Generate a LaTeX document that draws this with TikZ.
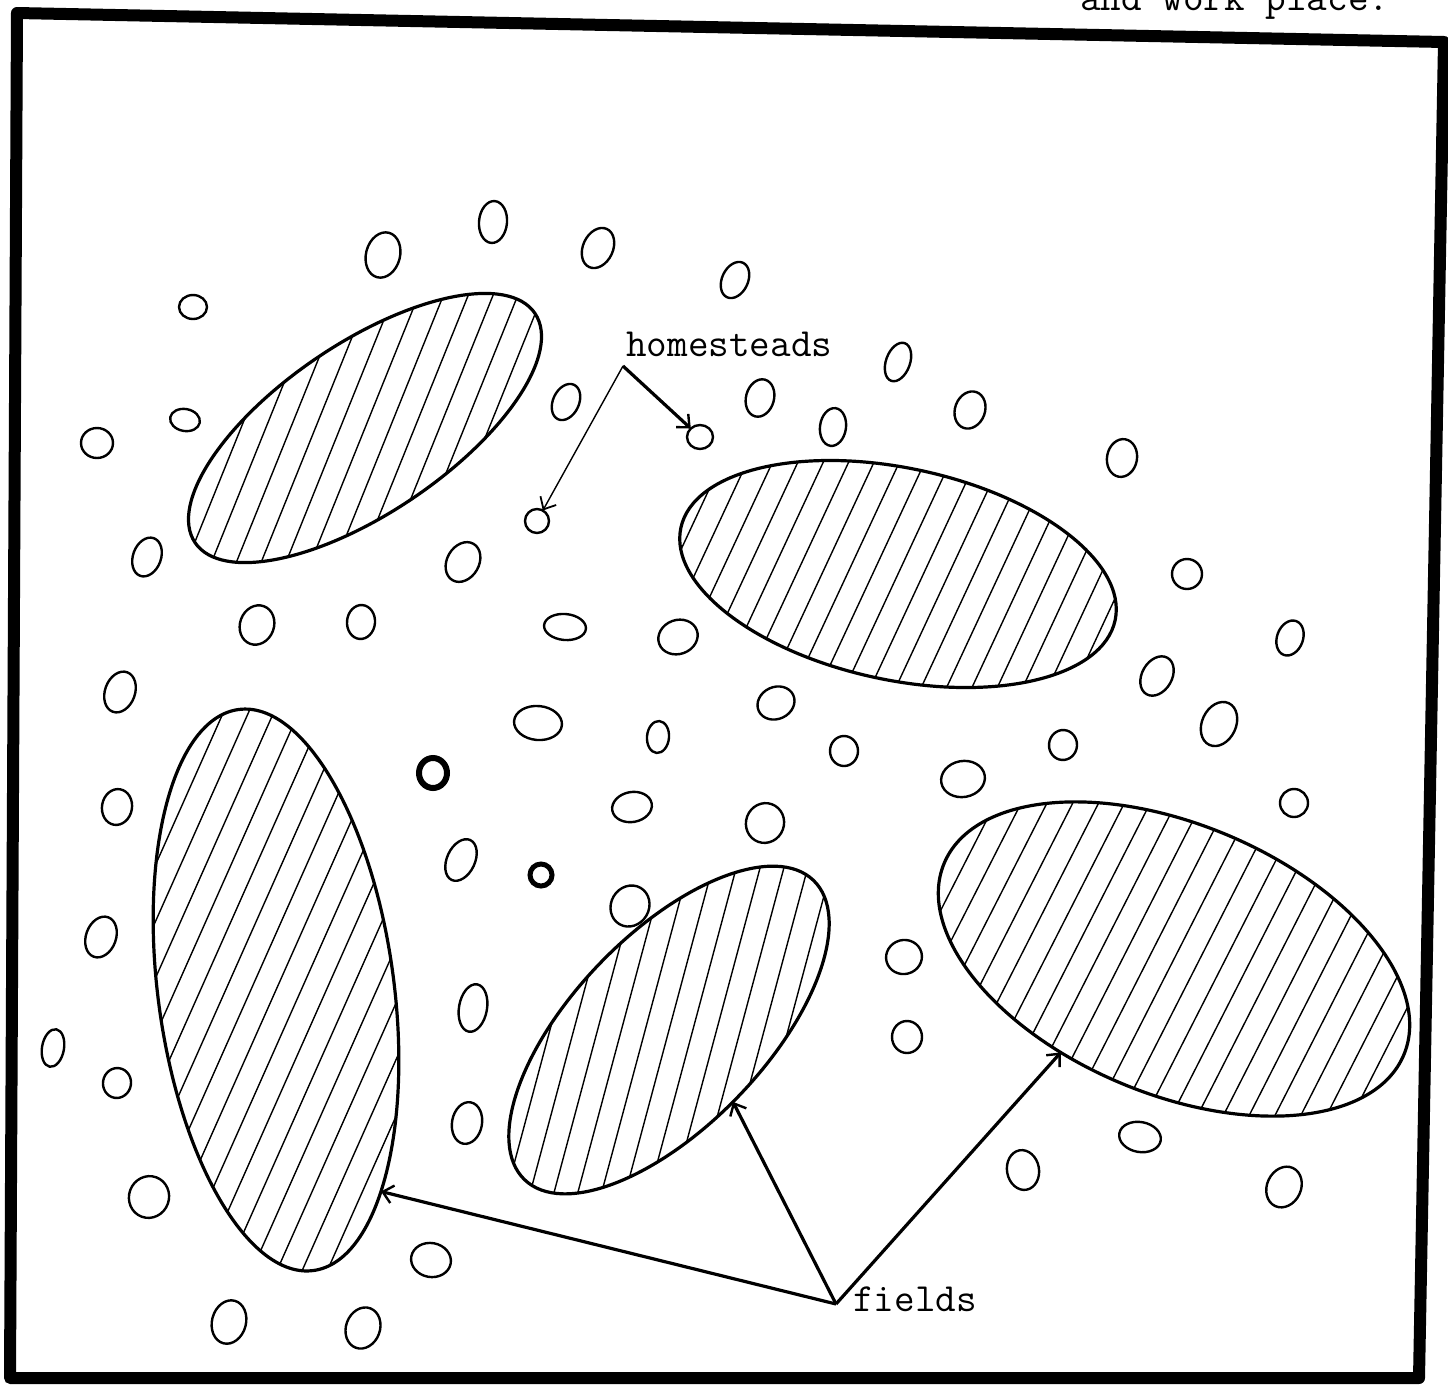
\documentclass[tikz,border=0pt]{standalone}
\usepackage{fontspec}
\usetikzlibrary{arrows.meta,shapes.geometric}
\newcommand{\fieldshape}[8]{%
 \begin{scope}[shift={(#2,#3)}, rotate=#6]
   \begin{scope}
    \clip (0,0) ellipse [x radius=#4pt, y radius=#5pt];
    \pgfmathsetmacro\hangle{#7-#6}
    \foreach \k in {-14,...,14}{
      \draw[hatchline] ({(\k*23*cos(\hangle+90)-400*cos(\hangle))*1pt}, {(\k*23*sin(\hangle+90)-400*sin(\hangle))*1pt}) -- ({(\k*23*cos(\hangle+90)+400*cos(\hangle))*1pt},{(\k*23*sin(\hangle+90)+400*sin(\hangle))*1pt});
    }
   \end{scope}
   \draw[fieldline] (0,0) ellipse [x radius=#4pt, y radius=#5pt];
   \coordinate (#1) at (#8:#4pt and #5pt);
 \end{scope}}
\begin{document}
\begin{tikzpicture}[x=1pt,y=-1pt,
  frame/.style={line width=12pt, line join=round},
  fieldline/.style={line width=3.2pt},
  hatchline/.style={line width=1.4pt},
  home/.style={draw, ellipse, line width=2.4pt, inner sep=0pt, outer sep=0pt},
  boldhome/.style={home, line width=6pt},
  ptr/.style={line width=3.2pt, -{Straight Barb[length=10pt,width=18pt,line width=2.4pt]}},
  thinptr/.style={line width=1.4pt, -{Straight Barb[length=10pt,width=18pt,line width=1.8pt]}},
  lbl/.style={font=\fontsize{40}{48}\selectfont\ttfamily, inner sep=0pt, anchor=base west}
]
\useasboundingbox (0,0) rectangle (1448,1385);
\clip (0,0) rectangle (1448,1385);

% top caption (cut off)
\node[lbl] (lt) at (1080,10) {and work place.};

% frame
\draw[frame] (17,13) -- (1444,42) -- (1419,1378) -- (10,1378) -- cycle;

% fields
\fieldshape{f1tip}{365}{428}{205}{85}{34}{68}{200}
\fieldshape{f2tip}{898}{574}{222}{106}{-12}{65}{200}
\fieldshape{f3tip}{276}{990}{283}{118}{97.6}{66}{221}
\fieldshape{f4tip}{669}{1030}{208}{96}{46}{75}{-92}
\fieldshape{f5tip}{1174}{959}{249}{135}{-22.6}{63}{254}

% homesteads
\foreach \hx/\hy/\hw/\hh/\hr [count=\i] in {
 383/255/34/46/-15, 493/222/28/42/-5, 598/248/30/42/-25, 735/280/26/38/-25,
 193/307/28/24/0, 898/362/24/40/-20, 566/402/26/38/-25, 760/398/28/38/-15,
 185/420/30/22/-10, 97/443/32/30/0, 833/427/26/38/-8, 970/410/30/38/-20,
 1122/458/30/38/-10, 147/557/28/40/-20, 463/562/32/42/-30, 1187/574/30/30/0,
 257/625/34/40/-20, 361/622/28/34/-5, 565/627/42/26/-5, 678/637/40/34/20,
 1290/638/26/36/-20, 120/692/30/42/-20, 1157/676/30/42/-30, 538/723/48/34/-5,
 658/737/22/32/-5, 776/703/38/32/25, 1219/724/34/46/-25, 844/751/28/30/0,
 1063/745/28/30/-5, 963/779/44/36/10, 117/807/30/36/-10, 632/807/40/30/10,
 765/823/38/40/-20, 1294/803/28/28/0, 461/860/28/44/-25, 630/906/38/42/-30,
 101/937/30/42/-20, 904/957/36/34/15, 473/1008/28/48/-10, 907/1037/30/32/0,
 53/1048/22/38/-10, 117/1083/28/30/-10, 467/1123/30/42/-10, 1140/1137/42/30/-10,
 1023/1170/32/40/10, 1284/1187/34/42/-25, 149/1197/40/42/-20, 431/1260/40/34/-10,
 229/1322/34/44/-15, 363/1328/34/42/-20}
 \node[home, minimum width=\hw pt, minimum height=\hh pt, rotate=\hr] (h\i) at (\hx,\hy) {};

\node[home, minimum width=26pt, minimum height=24pt] (hA) at (700,437) {};
\node[home, minimum width=24pt, minimum height=24pt] (hB) at (537,521) {};
\node[boldhome, minimum width=28pt, minimum height=30pt] (hC) at (433,773) {};
\node[boldhome, line width=5pt, minimum width=22pt, minimum height=22pt] (hD) at (541,875) {};

% labels and pointers
\node[lbl] (lh) at (626,356) {homesteads};
\coordinate (hv) at (623,366);
\draw[ptr] (hv) -- (hA);
\draw[thinptr] (hv) -- (hB);

\node[lbl] (lf) at (853,1311) {fields};
\coordinate (fv) at (836,1304);
\draw[ptr] (fv) -- (f3tip);
\draw[ptr] (fv) -- (f4tip);
\draw[ptr] (fv) -- (f5tip);
\end{tikzpicture}
\end{document}
